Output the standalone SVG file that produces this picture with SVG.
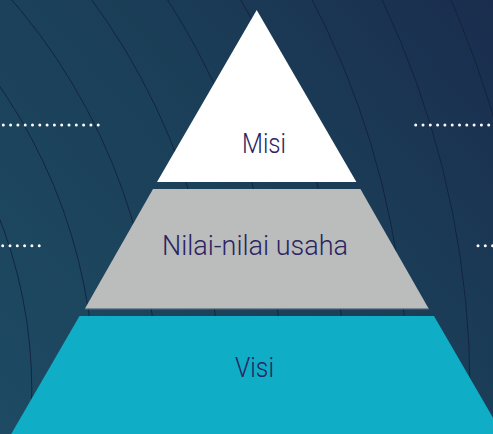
<svg xmlns="http://www.w3.org/2000/svg" width="493" height="434" viewBox="0 0 493 434">
  <defs>
    <linearGradient id="bg" x1="0" y1="434" x2="493" y2="0" gradientUnits="userSpaceOnUse">
      <stop offset="0" stop-color="#1e4a63"/>
      <stop offset="0.55" stop-color="#1b3f58"/>
      <stop offset="1" stop-color="#1a2d4e"/>
    </linearGradient>
    <style>
      .arc { fill: none; stroke: #13213d; stroke-width: 1; opacity: 0.9; }
      .dots { stroke: #ffffff; stroke-width: 3; stroke-linecap: round; stroke-dasharray: 0 7.3; fill: none; }
      .label { font-family: Roboto, "Liberation Sans", sans-serif; font-size: 28.5px; font-weight: 300; fill: #2a2462; text-anchor: middle; }
    </style>
  </defs>
  <rect x="0" y="0" width="493" height="434" fill="url(#bg)"/>
  <g id="arcs">
    <circle class="arc" cx="-440" cy="390" r="471.8"/>
    <circle class="arc" cx="-440" cy="390" r="534.4"/>
    <circle class="arc" cx="-440" cy="390" r="597"/>
    <circle class="arc" cx="-440" cy="390" r="659.6"/>
    <circle class="arc" cx="-440" cy="390" r="722.2"/>
    <circle class="arc" cx="-440" cy="390" r="784.8"/>
    <circle class="arc" cx="-440" cy="390" r="847.4"/>
    <circle class="arc" cx="-440" cy="390" r="910"/>
    <circle class="arc" cx="-440" cy="390" r="972.6"/>
  </g>
  <g id="connectors">
    <line class="dots" x1="3.3" y1="125" x2="100" y2="125"/>
    <line class="dots" x1="415.7" y1="125" x2="492" y2="125"/>
    <line class="dots" x1="2.7" y1="245.7" x2="41" y2="245.7"/>
    <line class="dots" x1="478" y1="245.7" x2="495" y2="245.7"/>
  </g>
  <g id="misi">
    <polygon points="256.7,10 157,182 356.4,182" fill="#ffffff"/>
    <text class="label" x="264" y="152.5" textLength="44" lengthAdjust="spacingAndGlyphs">Misi</text>
  </g>
  <g id="nilai">
    <polygon points="153,189 360.4,189 428.6,308.5 85,308.5" fill="#bbbcbc"/>
    <line x1="85" y1="308.8" x2="428.8" y2="308.8" stroke="#7d8b96" stroke-width="1"/>
    <text class="label" x="255" y="254.5" textLength="186" lengthAdjust="spacingAndGlyphs">Nilai-nilai usaha</text>
  </g>
  <g id="visi">
    <polygon points="79.5,316 434,316 502.5,434 11.2,434" fill="#0fadc6"/>
    <text class="label" x="254.5" y="377" textLength="39" lengthAdjust="spacingAndGlyphs">Visi</text>
  </g>
</svg>
